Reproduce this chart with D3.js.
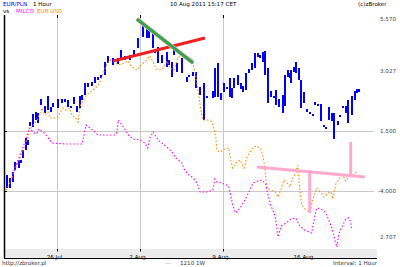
<!DOCTYPE html>
<html>
<head>
<meta charset="utf-8">
<script src="https://cdn.jsdelivr.net/npm/d3@7"></script>
<style>
  body { margin: 0; background: #fff; }
  text { font-family: "DejaVu Sans", sans-serif; font-size: 5.6px; }
</style>
</head>
<body>
<div id="chart"></div>
<script>
// hours since first bar -> [hours, high, low]
var bars = [
  [4,7.4,6.1],[10,7.1,6.1],[16,7.7,6.7],[20,8.7,7.9],[28,8.9,8.1],[32,8.9,8.6],[36,9.9,9.1],
  [43,11.1,9.9],[47,10.9,10.4],[51,12.7,12.3],[57,13.5,12.2],[63,13.7,12.9],[67,13.6,12.6],
  [73,15.0,14.4],[81,14.3,13.6],[87,15.3,13.9],[93,14.2,13.7],[97,14.6,14.2],[107,15.0,14.1],
  [115,15.0,14.6],[121,15.0,14.7],[128,14.9,14.2],[134,14.3,14.1],[140,15.2,14.5],[146,14.3,13.7],
  [152,15.3,14.1],[156,15.4,14.9],[162,16.6,15.4],[168,16.6,16.2],[176,16.7,16.3],[182,17.2,16.6],
  [188,17.2,16.9],[194,17.4,17.1],[202,18.7,17.4],[208,19.3,18.6],[219,19.1,18.4],[229,19.1,18.5],
  [235,19.9,19.1],[243,19.3,18.9],[253,19.4,18.9],[261,19.9,19.2],[269,21.1,20.1],[279,22.4,21.2],
  [287,22.1,21.1],[291,21.9,21.1],[300,21.6,20.1],[304,19.9,19.6],[310,20.2,18.6],[318,19.4,18.6],
  [328,19.7,18.2],[332,18.9,18.4],[338,18.7,17.2],[342,19.9,19.4],[348,18.6,17.7],[358,19.1,17.6],
  [368,17.2,16.7],[372,17.4,17.2],[381,17.7,17.3],[387,17.7,16.1],[395,16.2,15.4],[403,16.6,12.9],
  [409,15.3,15.1],[421,15.8,15.1],[425,18.1,15.2],[431,18.6,15.2],[437,15.6,14.9],[443,16.6,15.7],
  [449,16.2,16.0],[455,17.1,15.2],[459,16.1,15.1],[464,17.1,16.1],[472,17.4,16.4],[478,16.6,16.0],
  [482,16.3,15.7],[488,17.6,15.9],[494,18.0,17.6],[500,18.6,17.9],[506,19.6,18.1],[512,19.6,19.2],
  [516,19.4,19.1],[522,19.7,18.7],[526,19.8,17.4],[532,18.1,14.6],[538,15.8,15.2],[544,15.3,15.1],
  [548,15.9,14.4],[555,15.0,14.2],[563,15.4,13.6],[567,17.4,14.3],[573,17.9,17.2],[577,17.6,17.1],
  [579,17.9,16.6],[585,18.2,17.7],[589,18.7,17.6],[595,18.1,16.9],[599,16.9,14.1],[605,15.7,14.6],
  [611,14.0,13.7],[617,13.7,13.5],[623,13.5,13.3],[627,14.7,14.4],[634,14.5,14.3],[640,14.5,12.8],
  [646,12.4,12.2],[650,12.2,12.0],[656,14.2,12.9],[662,13.6,12.8],[666,13.6,11.0],[674,12.8,12.4],
  [678,13.4,13.2],[684,14.3,14.1],[690,14.3,13.6],[694,14.9,12.6],[702,15.3,13.4],[708,15.8,14.9],
  [712,16.0,15.6],[717,16.0,15.7]
];

var eurusd = [
  [2,5.9],[8,6.4],[14,7.1],[20,7.9],[26,8.6],[32,9.2],[38,10.1],[45,10.9],[51,11.9],[57,12.4],
  [65,12.9],[71,13.6],[75,14.1],[81,13.4],[87,13.7],[91,13.1],[105,13.1],[111,13.6],[117,14.1],
  [123,13.9],[130,14.1],[136,13.3],[142,13.2],[148,12.7],[152,14.3],[158,14.8],[164,15.3],[170,15.6],
  [176,15.8],[182,16.1],[188,16.3],[194,16.9],[200,17.7],[206,18.5],[213,18.9],[221,18.7],[229,18.4],
  [237,18.5],[245,18.7],[249,18.8],[257,18.2],[267,17.9],[275,18.4],[285,18.8],[293,19.3],[300,18.7],
  [306,18.0],[314,17.9],[320,18.1],[328,18.8],[334,18.1],[342,17.9],[350,19.2],[358,19.2],[364,19.3],
  [372,19.2],[378,19.0],[385,17.7],[389,16.4],[393,15.2],[397,13.7],[401,12.9],[411,12.9],[419,12.7],
  [423,12.1],[427,11.1],[429,9.9],[435,9.7],[445,10.0],[453,10.1],[457,8.9],[461,8.1],[467,8.6],
  [476,8.9],[484,8.1],[490,9.2],[496,9.7],[504,10.2],[510,10.3],[518,10.0],[522,9.4],[526,8.2],
  [530,6.1],[538,5.9],[547,5.7],[553,5.2],[559,6.0],[565,6.9],[571,6.6],[577,6.2],[583,7.1],[589,7.6],
  [593,8.4],[597,5.9],[601,4.4],[609,3.9],[617,3.7],[623,4.9],[631,6.1],[640,5.6],[646,5.2],[654,5.6],
  [660,5.7],[664,5.0],[670,6.5],[678,7.1],[684,7.4],[690,6.8],[696,7.2],[704,7.4],[712,7.7]
];

var milco = [
  [14,7.1],[20,8.1],[28,9.1],[36,10.1],[43,11.1],[49,12.1],[55,11.8],[61,11.5],[65,11.6],[69,12.0],
  [77,11.7],[83,11.4],[89,11.0],[95,10.6],[125,10.5],[156,10.5],[160,11.4],[164,12.4],[172,12.1],
  [180,11.8],[188,11.4],[223,11.4],[227,11.7],[229,12.9],[237,12.4],[245,11.8],[251,11.3],[261,11.0],
  [273,10.9],[283,10.6],[289,10.1],[293,11.1],[300,11.7],[310,10.9],[320,10.5],[330,10.1],[340,9.6],
  [344,9.2],[358,8.6],[364,7.9],[370,7.5],[381,7.1],[389,6.6],[395,5.7],[409,5.7],[421,5.9],[425,7.0],
  [429,6.7],[439,6.6],[453,6.3],[457,5.4],[461,4.4],[467,3.6],[476,4.1],[486,4.9],[496,5.9],[502,6.6],
  [512,6.8],[520,6.9],[528,6.5],[532,5.5],[538,4.4],[547,3.3],[553,1.2],[559,2.3],[569,2.6],[579,3.0],
  [589,3.1],[597,2.3],[607,1.9],[621,1.6],[625,2.7],[631,4.1],[640,4.0],[648,3.7],[654,3.1],[662,2.1],
  [668,0.9],[672,0.2],[676,1.5],[682,2.2],[690,3.0],[696,3.1],[700,2.7],[702,2.1]
];

// trend lines drawn on the chart
var redTrend = [[219,18.8],[405,21.1]];
var greenTrend = [[267,23.0],[381,18.6]];
var pinkTrend = [[510,8.2],[729,7.2]];
var pinkSpikes = [[617,7.9,3.6],[700,10.7,7.4]];

var dateTicks = ["2011-07-26","2011-08-02","2011-08-09","2011-08-16"];
var gridDates = ["2011-07-26","2011-08-02","2011-08-09"];
var rightTicks = [23.0, 17.8, 11.8, 5.8, 1.2];
var rightLabels = ["5.570", "3.027", "1.500", "-4.000", "2.707"];
var gridValues = [11.8, 5.8];

var W = 400, H = 267;
var start = new Date(2011, 6, 21, 14, 42);
function hourDate(h) { return new Date(+start + h * 36e5); }

var svg = d3.select("#chart").append("svg")
  .attr("width", W).attr("height", H);

var x = d3.scaleTime()
  .domain([start, hourDate(729)])
  .range([5, 365]);
var y = d3.scaleLinear()
  .domain([0, 23.4])
  .range([249, 15]);
var parse = d3.timeParse("%Y-%m-%d");

// grid
svg.append("g")
  .selectAll("line.vg")
  .data(gridDates)
  .enter().append("line")
  .attr("x1", function(d){ return Math.round(x(parse(d))) + 0.5; })
  .attr("x2", function(d){ return Math.round(x(parse(d))) + 0.5; })
  .attr("y1", 15).attr("y2", 249)
  .style("stroke", "#c8c8c8");

svg.append("g")
  .selectAll("line.hg")
  .data(gridValues)
  .enter().append("line")
  .attr("x1", 4).attr("x2", 374)
  .attr("y1", function(d){ return Math.round(y(d)) + 0.5; })
  .attr("y2", function(d){ return Math.round(y(d)) + 0.5; })
  .style("stroke", "#c8c8c8");

// black tick stubs
svg.append("g").selectAll("line")
  .data(gridDates).enter().append("line")
  .attr("x1", function(d){ return Math.round(x(parse(d))) + 0.5; })
  .attr("x2", function(d){ return Math.round(x(parse(d))) + 0.5; })
  .attr("y1", 15).attr("y2", 18)
  .style("stroke", "#000");
svg.append("g").selectAll("line")
  .data(gridValues).enter().append("line")
  .attr("x1", 4).attr("x2", 7)
  .attr("y1", function(d){ return Math.round(y(d)) + 0.5; })
  .attr("y2", function(d){ return Math.round(y(d)) + 0.5; })
  .style("stroke", "#000");

// bottom band + date axis
svg.append("rect")
  .attr("x", 4).attr("y", 249).attr("width", 373).attr("height", 9)
  .style("fill", "#ececec");
svg.append("line")
  .attr("x1", 4).attr("x2", 377).attr("y1", 258.5).attr("y2", 258.5)
  .style("stroke", "#000");

var xaxis = d3.axisBottom(x)
  .tickValues(dateTicks.map(parse))
  .tickFormat(d3.timeFormat("%-d %b"))
  .tickSize(0);
var gx = svg.append("g")
  .attr("transform", "translate(0,250)")
  .call(xaxis);
gx.select(".domain").remove();
gx.selectAll("text").attr("dy", "5.5px").attr("dx", "-3px").style("fill", "#000").style("font-size", "5.6px");
svg.append("g").selectAll("line")
  .data(gridDates).enter().append("line")
  .attr("x1", function(d){ return Math.round(x(parse(d))) + 0.5; })
  .attr("x2", function(d){ return Math.round(x(parse(d))) + 0.5; })
  .attr("y1", 249).attr("y2", 251.5)
  .style("stroke", "#000");

// right axis labels
var yaxis = d3.axisRight(y)
  .tickValues(rightTicks)
  .tickFormat(function(d, i){ return rightLabels[i]; })
  .tickSize(0);
var gy = svg.append("g")
  .attr("transform", "translate(375,0)")
  .call(yaxis);
gy.select(".domain").remove();
gy.selectAll("text").attr("x", 21).style("text-anchor", "end").style("fill", "#444").style("font-size", "5.6px");

// left axis line
svg.append("line")
  .attr("x1", 4.5).attr("x2", 4.5).attr("y1", 15).attr("y2", 258)
  .style("stroke", "#000").style("stroke-width", 1.5);

// price bars
svg.append("g")
  .selectAll("rect")
  .data(bars)
  .enter().append("rect")
  .attr("x", function(d){ return Math.round(x(hourDate(d[0]))) - 1; })
  .attr("y", function(d){ return y(d[1]); })
  .attr("width", 2)
  .attr("height", function(d){ return Math.max(1.5, y(d[2]) - y(d[1])); })
  .style("fill", "#0000ff");

var line = d3.line()
  .x(function(d){ return x(hourDate(d[0])); })
  .y(function(d){ return y(d[1]); });

svg.append("path").datum(eurusd)
  .attr("d", line)
  .style("fill", "none").style("stroke", "#ff8800")
  .style("stroke-width", 1.1).style("stroke-dasharray", "1.5,2");

svg.append("path").datum(milco)
  .attr("d", line)
  .style("fill", "none").style("stroke", "#ff00ff")
  .style("stroke-width", 1.1).style("stroke-dasharray", "1.5,2");

// trend lines
svg.append("path").datum(pinkTrend)
  .attr("d", line)
  .style("fill", "none").style("stroke", "#ffaacc").style("stroke-width", 3);
svg.append("g").selectAll("line")
  .data(pinkSpikes).enter().append("line")
  .attr("x1", function(d){ return x(hourDate(d[0])); })
  .attr("x2", function(d){ return x(hourDate(d[0])); })
  .attr("y1", function(d){ return y(d[1]); })
  .attr("y2", function(d){ return y(d[2]); })
  .style("stroke", "#ffaacc").style("stroke-width", 3);

svg.append("path").datum(redTrend)
  .attr("d", line)
  .style("fill", "none").style("stroke", "#ee2222").style("stroke-width", 3);
svg.append("path").datum(greenTrend)
  .attr("d", line)
  .style("fill", "none").style("stroke", "#ffb0c0").style("stroke-width", 4.5);
svg.append("path").datum(greenTrend)
  .attr("d", line)
  .style("fill", "none").style("stroke", "#2da84a").style("stroke-width", 3);

// header and footer texts
svg.append("text").attr("x", 3).attr("y", 6).style("fill", "#0000ff").text("EUR/PLN");
svg.append("text").attr("x", 33).attr("y", 6).style("fill", "#000").text("1 Hour");
svg.append("text").attr("x", 170).attr("y", 6).style("fill", "#000").text("10 Aug 2011 15:17 CET");
svg.append("text").attr("x", 358).attr("y", 6).style("fill", "#000").text("(c)zBroker");
svg.append("text").attr("x", 3).attr("y", 13).style("fill", "#000").text("vs");
svg.append("text").attr("x", 16).attr("y", 13).style("fill", "#ff00ff").text("MILCO");
svg.append("text").attr("x", 37).attr("y", 13).style("fill", "#ff8800").text("EUR USD");
svg.append("text").attr("x", 2).attr("y", 265).style("fill", "#333").text("http://zbroker.pl");
svg.append("text").attr("x", 165).attr("y", 265).style("fill", "#999").text("---");
svg.append("text").attr("x", 180).attr("y", 265).style("fill", "#333").text("1210 1W");
svg.append("text").attr("x", 377).attr("y", 265).style("text-anchor", "end").style("fill", "#333").text("Interval: 1 Hour");
</script>
</body>
</html>
